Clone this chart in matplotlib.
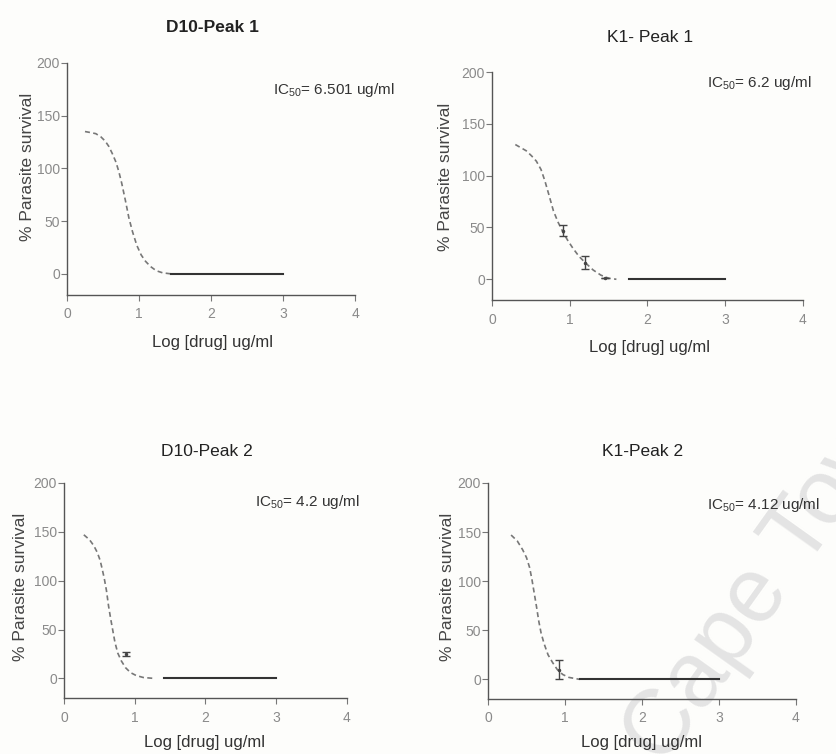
import matplotlib.pyplot as plt

plt.rcParams['font.family'] = ['Liberation Sans', 'DejaVu Sans']
plt.rcParams['mathtext.default'] = 'regular'

titles = ['D10-Peak 1', 'K1- Peak 1', 'D10-Peak 2', 'K1-Peak 2']
ic50_labels = ['IC$_{50}$= 6.501 ug/ml', 'IC$_{50}$= 6.2 ug/ml',
               'IC$_{50}$= 4.2 ug/ml', 'IC$_{50}$= 4.12 ug/ml']

# fitted curves: log[drug] vs % survival
d10_p1_x = [0.25, 0.33, 0.4, 0.47, 0.53, 0.58, 0.63, 0.68, 0.72, 0.76, 0.81, 0.86, 0.91,
            0.97, 1.03, 1.09, 1.16, 1.24, 1.33, 1.45]
d10_p1_y = [135, 134, 133, 130, 126, 121, 114, 106, 97, 86, 70, 53, 40,
            27, 18, 12, 7, 3, 1, 0]
k1_p1_x = [0.3, 0.37, 0.44, 0.51, 0.57, 0.63, 0.68, 0.73, 0.79, 0.85, 0.91, 0.97, 1.04,
           1.12, 1.2, 1.3, 1.4, 1.5, 1.6]
k1_p1_y = [130, 127, 124, 119, 114, 106, 95, 82, 66, 55, 46, 38, 30,
           22, 16, 9, 4, 1, 0]
d10_p2_x = [0.28, 0.36, 0.42, 0.47, 0.51, 0.54, 0.57, 0.6, 0.63, 0.66, 0.69, 0.72, 0.76,
            0.81, 0.87, 0.94, 1.02, 1.12, 1.28]
d10_p2_y = [147, 142, 136, 129, 121, 112, 102, 90, 74, 61, 49, 37, 26,
            18, 11, 6, 3, 1, 0]
k1_p2_x = [0.30, 0.38, 0.45, 0.5, 0.54, 0.57, 0.6, 0.63, 0.66, 0.69, 0.73, 0.78, 0.84,
           0.9, 0.97, 1.05, 1.19]
k1_p2_y = [147, 141, 132, 124, 114, 102, 88, 74, 59, 47, 36, 25, 17,
           10, 5, 2, 0]

# flat bottom of each fit (start, end)
plateau_x = [[1.45, 3.0], [1.76, 3.0], [1.42, 3.0], [1.19, 3.0]]

# measured points with error bars
err_x = [[], [0.91, 1.2, 1.45], [0.87], [0.92]]
err_y = [[], [47, 16, 1], [25], [10]]
err_e = [[], [5, 6, 0], [2], [10]]

curves_x = [d10_p1_x, k1_p1_x, d10_p2_x, k1_p2_x]
curves_y = [d10_p1_y, k1_p1_y, d10_p2_y, k1_p2_y]

W, H = 837, 754
fig = plt.figure(figsize=(W / 100, H / 100), dpi=100)
fig.patch.set_facecolor('#fdfdfb')

# watermark from the scan, drawn under the axes
fig.text(664 / W, 1 - 768 / H, 'Cape Town', fontsize=66, color='#e4e4e4',
         rotation=54.5, rotation_mode='anchor', ha='left', va='baseline', zorder=-1)

# axes boxes in pixels: left, top(y=200), right(x=4), bottom(y=-20)
boxes = [(67, 63, 355, 295), (492, 72, 803, 300), (64, 483, 347, 698), (488, 483, 796, 699)]
title_pos = [(212, 28), (650, 38), (207, 452), (643, 452)]
xlab_pos = [(212, 343), (650, 347), (205, 742), (642, 742)]
ylab_pos = [(28, 167), (446, 177), (21, 587), (447, 587)]
ic_pos = [(273, 90), (707, 83), (255, 502), (707, 505)]

for i in range(4):
    l, t, r, b = boxes[i]
    ax = fig.add_axes([l / W, 1 - b / H, (r - l) / W, (b - t) / H])
    ax.patch.set_alpha(0)
    ax.set_xlim(0, 4)
    ax.set_ylim(-20, 200)
    ax.set_xticks([0, 1, 2, 3, 4])
    ax.set_yticks([0, 50, 100, 150, 200])
    for s in ['top', 'right']:
        ax.spines[s].set_visible(False)
    for s in ['left', 'bottom']:
        ax.spines[s].set_color('#555555')
        ax.spines[s].set_linewidth(1.0)
    ax.tick_params(direction='out', length=4, width=0.8, color='#777777',
                   labelcolor='#8a8a8a', labelsize=10)
    ax.tick_params(axis='y', pad=1)
    ax.tick_params(axis='x', pad=5)

    ax.plot(curves_x[i], curves_y[i], color='#777777', lw=1.2, ls=(0, (3, 2)))
    ax.plot(plateau_x[i], [0, 0], color='#333333', lw=1.5)
    if err_x[i]:
        ax.errorbar(err_x[i], err_y[i], yerr=err_e[i], fmt='.', ms=3, color='#444444',
                    ecolor='#444444', elinewidth=1, capsize=3)

    fig.text(title_pos[i][0] / W, 1 - title_pos[i][1] / H, titles[i], fontsize=12.5,
             ha='center', va='center', color='#222222',
             fontweight='bold' if i == 0 else 'normal')
    fig.text(xlab_pos[i][0] / W, 1 - xlab_pos[i][1] / H, 'Log [drug] ug/ml', fontsize=12,
             ha='center', va='center', color='#333333')
    fig.text(ylab_pos[i][0] / W, 1 - ylab_pos[i][1] / H, '% Parasite survival', fontsize=12.5,
             ha='center', va='center', rotation=90, color='#444444')
    fig.text(ic_pos[i][0] / W, 1 - ic_pos[i][1] / H, ic50_labels[i], fontsize=11,
             ha='left', va='center', color='#333333')

fig.savefig('out.png', dpi=100, facecolor=fig.get_facecolor())
